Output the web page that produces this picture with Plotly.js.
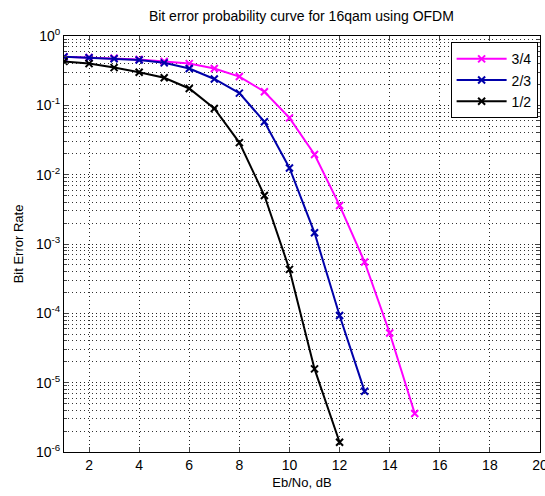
<!DOCTYPE html>
<html>
<head>
<meta charset="utf-8">
<script src="https://cdn.plot.ly/plotly-3.0.1.min.js"></script>
<style>html,body{margin:0;padding:0;background:#fff;}#chart{width:545px;height:496px;}</style>
</head>
<body>
<div id="chart"></div>
<script>
const ebno = [1,2,3,4,5,6,7,8,9,10,11,12,13,14,15];
const ber34 = [0.50,0.49,0.48,0.46,0.43,0.40,0.34,0.26,0.157,0.066,0.0195,0.0036,0.00055,0.000052,0.0000036];
const ebno23 = [1,2,3,4,5,6,7,8,9,10,11,12,13];
const ber23 = [0.50,0.485,0.47,0.45,0.41,0.34,0.24,0.15,0.058,0.0125,0.00145,0.000093,0.0000075];
const ebno12 = [1,2,3,4,5,6,7,8,9,10,11,12];
const ber12 = [0.43,0.40,0.35,0.30,0.25,0.175,0.090,0.029,0.005,0.00043,0.0000158,0.00000138];
const seriesNames = ['3/4','2/3','1/2'];
const xTicks = [2,4,6,8,10,12,14,16,18,20];
const yTickVals = [1,0.1,0.01,0.001,0.0001,0.00001,0.000001];
const yTickText = ['10<sup>0</sup>','10<sup>-1</sup>','10<sup>-2</sup>','10<sup>-3</sup>','10<sup>-4</sup>','10<sup>-5</sup>','10<sup>-6</sup>'];

const mk = (x,y,name,color)=>({x:x,y:y,name:name,type:'scatter',mode:'lines+markers',
  line:{color:color,width:2},marker:{symbol:'x-thin-open',size:7,color:color,line:{color:color,width:2}}});

const data = [
  mk(ebno,ber34,seriesNames[0],'#ff00ff'),
  mk(ebno23,ber23,seriesNames[1],'#0000aa'),
  mk(ebno12,ber12,seriesNames[2],'#000000')
];
const font = {family:'Liberation Sans, Arial, sans-serif',color:'#000'};
const gridDash = '1px,3px';
const layout = {
  width:545,height:496,
  margin:{l:64,r:5,t:36,b:44},
  paper_bgcolor:'#fff',plot_bgcolor:'#fff',
  font:Object.assign({size:14},font),
  title:{text:'Bit error probability curve for 16qam using OFDM',font:Object.assign({size:14},font),x:0.553,xanchor:'center',y:0.978,yanchor:'top'},
  xaxis:{range:[1,20],tickvals:xTicks,ticks:'inside',ticklen:5,mirror:'ticks',showline:true,linecolor:'#000',linewidth:1,
    showgrid:true,gridcolor:'#222',griddash:gridDash,gridwidth:1,zeroline:false,ticklabeloverflow:'allow',
    title:{text:'Eb/No, dB',font:Object.assign({size:13},font),standoff:6},tickfont:Object.assign({size:14},font)},
  yaxis:{type:'log',range:[-6,0],tickvals:yTickVals,ticktext:yTickText,ticks:'inside',ticklen:5,mirror:'ticks',showline:true,linecolor:'#000',linewidth:1,
    showgrid:true,gridcolor:'#222',griddash:gridDash,gridwidth:1,zeroline:false,
    minor:{dtick:'D1',showgrid:true,gridcolor:'#333',griddash:gridDash,gridwidth:1,ticks:'inside',ticklen:3},
    title:{text:'Bit Error Rate',font:Object.assign({size:13},font),standoff:9},tickfont:Object.assign({size:14},font)},
  legend:{x:0.995,xanchor:'right',y:0.985,yanchor:'top',bgcolor:'#fff',bordercolor:'#000',borderwidth:1,
    font:Object.assign({size:14},font),itemwidth:50,tracegroupgap:0},
  showlegend:true
};
Plotly.newPlot('chart',data,layout,{displayModeBar:false,staticPlot:true});
</script>
</body>
</html>
